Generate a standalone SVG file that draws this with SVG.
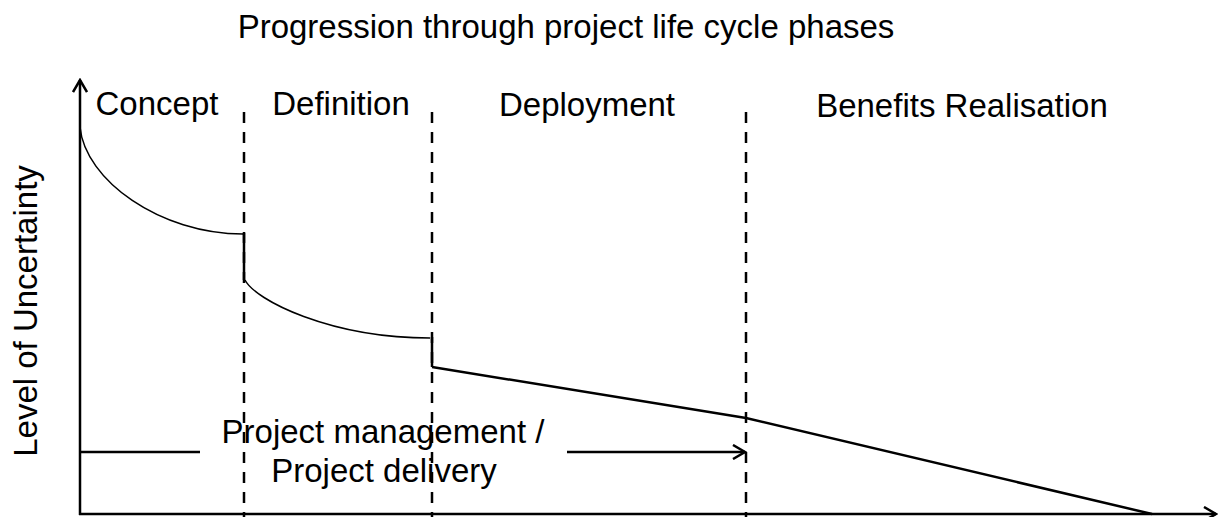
<svg xmlns="http://www.w3.org/2000/svg" width="1219" height="517" viewBox="0 0 1219 517">
  <style>
    text { font-family: "Liberation Sans", Arial, sans-serif; font-size: 33px; fill: #000; }
    .axis { stroke: #000; stroke-width: 2.5; fill: none; }
    .phase { stroke: #000; stroke-width: 2.5; stroke-dasharray: 11 9; fill: none; }
    .curve { stroke: #000; stroke-width: 1.5; fill: none; }
    .thick { stroke: #000; stroke-width: 2.5; fill: none; }
  </style>
  <defs>
    <marker id="open-arrow" viewBox="0 0 16 16" refX="14" refY="8" markerWidth="16" markerHeight="16" markerUnits="userSpaceOnUse" orient="auto">
      <path d="M2,1 L14,8 L2,15" fill="none" stroke="#000" stroke-width="2.5"/>
    </marker>
  </defs>

  <rect width="1219" height="517" fill="#fff"/>

  <g id="title">
    <text x="566" y="38" text-anchor="middle">Progression through project life cycle phases</text>
  </g>

  <g id="axes">
    <line class="axis" x1="80" y1="515" x2="80" y2="80" marker-end="url(#open-arrow)"/>
    <line class="axis" x1="79" y1="514" x2="1216" y2="514" marker-end="url(#open-arrow)"/>
    <text x="37" y="311" text-anchor="middle" transform="rotate(-90 37 311)">Level of Uncertainty</text>
  </g>

  <g id="phase-dividers">
    <line class="phase" x1="244" y1="112" x2="244" y2="517"/>
    <line class="phase" x1="432" y1="112" x2="432" y2="517"/>
    <line class="phase" x1="746" y1="112" x2="746" y2="517"/>
  </g>

  <g id="phase-concept"><text x="157" y="115" text-anchor="middle">Concept</text></g>
  <g id="phase-definition"><text x="341" y="115" text-anchor="middle">Definition</text></g>
  <g id="phase-deployment"><text x="587" y="116" text-anchor="middle">Deployment</text></g>
  <g id="phase-benefits"><text x="962" y="117" text-anchor="middle">Benefits Realisation</text></g>

  <g id="connectors">
    <!-- uncertainty profile -->
    <path class="curve" d="M80,127 C85,180 160,234 243,234"/>
    <line class="thick" x1="244" y1="233" x2="244" y2="280"/>
    <path class="curve" d="M245,280 C255,300 330,338 430,338"/>
    <line class="thick" x1="432" y1="337" x2="432" y2="367"/>
    <polyline class="thick" points="432,367 746,418 1152,514"/>
    <!-- project management span -->
    <line class="thick" x1="80" y1="452" x2="200" y2="452"/>
    <line class="thick" x1="567" y1="452" x2="745" y2="452" marker-end="url(#open-arrow)"/>
  </g>

  <g id="label-project-management">
    <text x="383" y="443" text-anchor="middle">Project management /</text>
    <text x="384" y="482" text-anchor="middle">Project delivery</text>
  </g>
</svg>
